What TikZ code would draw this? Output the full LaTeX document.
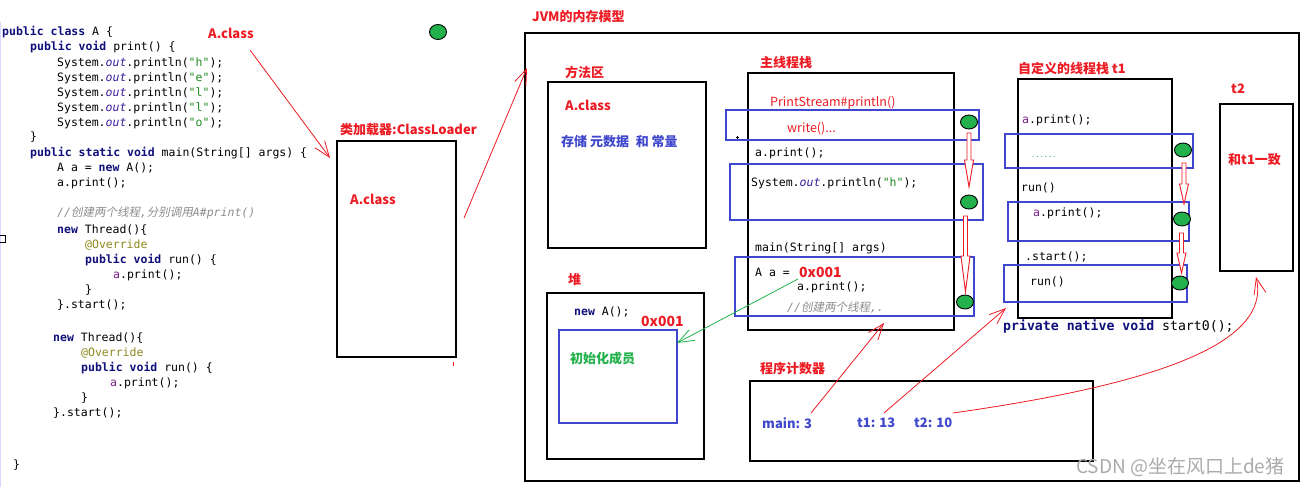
\documentclass[tikz,border=0pt]{standalone}
\usepackage{fontspec}
\usetikzlibrary{shapes.geometric,arrows.meta}
\newfontfamily\cjk{Noto Sans CJK SC}
\newfontfamily\cjkit[FakeSlant=0.2]{Noto Sans CJK SC}
\newfontfamily\codefont{DejaVu Sans Mono}
\definecolor{pred}{HTML}{ED1C24}
\definecolor{pblue}{HTML}{3F48CC}
\definecolor{pgreen}{HTML}{22B14C}
\definecolor{kwc}{HTML}{10107A}
\definecolor{outc}{HTML}{3A1C9C}
\definecolor{strc}{HTML}{1F8A1F}
\definecolor{varc}{HTML}{7A1E8A}
\definecolor{cmtc}{HTML}{8C8C8C}
\definecolor{annc}{HTML}{8C8A1E}
\definecolor{wmk}{HTML}{ABABAB}
\newcommand\jkw[1]{{\bfseries\color{kwc}#1}}
\newcommand\jout{{\itshape\color{outc}out}}
\newcommand\jstr[1]{{\color{strc}#1}}
\newcommand\jvar[1]{{\color{varc}#1}}
\newcommand\jann[1]{{\color{annc}#1}}
\newcommand\jharrow[4]{\draw[pred,line width=0.9pt,fill=white] (#1-2,#2) -- (#1-2,#3) -- (#1-4.5,#3) -- (#1,#4) -- (#1+4.5,#3) -- (#1+2,#3) -- (#1+2,#2) -- cycle;}
\begin{document}
\begin{tikzpicture}[x=1pt,y=-1pt,
  code/.style={anchor=west,inner sep=0pt,font=\codefont\fontsize{11.5}{13}\selectfont},
  bigcode/.style={anchor=west,inner sep=0pt,font=\codefont\fontsize{13.2}{15}\selectfont},
  lab/.style={anchor=west,inner sep=0pt,font=\cjk\bfseries\fontsize{13}{15}\selectfont,text=pred},
  hexlab/.style={anchor=west,inner sep=0pt,font=\cjk\bfseries\fontsize{14}{16}\selectfont,text=pred},
  bluelab/.style={anchor=west,inner sep=0pt,font=\cjk\bfseries\fontsize{13}{15}\selectfont,text=pblue},
  greenlab/.style={anchor=west,inner sep=0pt,font=\cjk\bfseries\fontsize{13}{15}\selectfont,text=pgreen},
  redtxt/.style={anchor=west,inner sep=0pt,font=\cjk\fontsize{12.5}{15}\selectfont,text=pred},
  bx/.style={draw=black,line width=1.3pt,anchor=north west,inner sep=0pt,outer sep=0pt},
  bbx/.style={draw=pblue,line width=1.2pt,anchor=north west,inner sep=0pt,outer sep=0pt},
  dot/.style={ellipse,draw=black,line width=0.9pt,fill=pgreen,minimum width=17pt,minimum height=14pt,inner sep=0pt},
  ra/.style={draw=pred,line width=0.8pt,-{Straight Barb[length=16pt,width=12pt]}},
  ga/.style={draw=pgreen,line width=0.8pt,-{Straight Barb[length=16pt,width=12pt]}}
]
\useasboundingbox (0,0) rectangle (1306,487);
\fill[white] (0,0) rectangle (1306,487);
% editor margin
\draw[blue!15,line width=1pt] (0.5,22) -- (0.5,487);
\node[draw=black,line width=1pt,minimum width=6pt,minimum height=7pt,inner sep=0pt,anchor=north west] (mk) at (-1,235) {};

% ---------- code ----------
\node[code] (l1) at (2,32) {\jkw{public} \jkw{class} A \{};
\node[code] (l2) at (30,47) {\jkw{public} \jkw{void} print() \{};
\node[code] (l3) at (57,63) {System.\jout.println(\jstr{"h"});};
\node[code] (l4) at (57,78) {System.\jout.println(\jstr{"e"});};
\node[code] (l5) at (57,93) {System.\jout.println(\jstr{"l"});};
\node[code] (l6) at (57,108) {System.\jout.println(\jstr{"l"});};
\node[code] (l7) at (57,123) {System.\jout.println(\jstr{"o"});};
\node[code] (l8) at (30,137) {\}};
\node[code] (l9) at (30,153) {\jkw{public} \jkw{static} \jkw{void} main(String[] args) \{};
\node[code] (l10) at (57,168) {A a = \jkw{new} A();};
\node[code] (l11) at (57,183) {a.print();};
\node[code,text=cmtc] (l12) at (57,213) {{\itshape //}{\cjkit 创建两个线程}{\itshape ,}{\cjkit 分别调用}{\itshape A\#print()}};
\node[code] (l13) at (57,230) {\jkw{new} Thread()\{};
\node[code] (l14) at (85,245) {\jann{@Override}};
\node[code] (l15) at (85,260) {\jkw{public} \jkw{void} run() \{};
\node[code] (l16) at (113,275) {\jvar{a}.print();};
\node[code] (l17) at (85,290) {\}};
\node[code] (l18) at (57,305) {\}.start();};
\node[code] (l19) at (53,338) {\jkw{new} Thread()\{};
\node[code] (l20) at (81,353) {\jann{@Override}};
\node[code] (l21) at (81,368) {\jkw{public} \jkw{void} run() \{};
\node[code] (l22) at (110,383) {\jvar{a}.print();};
\node[code] (l23) at (81,398) {\}};
\node[code] (l24) at (53,413) {\}.start();};
\node[code] (l25) at (13,465) {\}};

% ---------- labels top ----------
\node[lab] (acl) at (208,33) {A.class};
\node[dot,minimum width=17pt,minimum height=15pt] (topdot) at (438,32) {};
\node[lab] (cll) at (340,130) {类加载器:ClassLoader};
\node[bx,minimum width=119pt,minimum height=216pt] (loader) at (337,141) {};
\node[lab] (acl2) at (350,199) {A.class};
\fill[pred] (452.5,362) rectangle (453.5,366);

% ---------- JVM ----------
\node[lab] (jvml) at (532,17) {JVM的内存模型};
\node[bx,minimum width=774pt,minimum height=448pt] (jvm) at (525,33) {};

% method area
\node[lab] (mal) at (565,72) {方法区};
\node[bx,minimum width=158pt,minimum height=166pt] (marea) at (548,82) {};
\node[lab] (acl3) at (565,105) {A.class};
\node[bluelab] (meta) at (561,142) {存储 元数据 \;和 常量};

% heap
\node[lab] (heapl) at (568,280) {堆};
\node[bx,minimum width=157pt,minimum height=166pt] (heap) at (547,293) {};
\node[code] (newa) at (574,312) {\jkw{new} A();};
\node[hexlab] (hex1) at (641,321) {0x001};
\node[bbx,minimum width=118pt,minimum height=93pt] (heapin) at (559,330) {};
\node[greenlab] (init) at (570,359) {初始化成员};

% main stack
\node[lab] (msl) at (760,63) {主线程栈};
\node[bx,minimum width=206pt,minimum height=257pt] (mstack) at (748,73) {};
\node[bbx,minimum width=253pt,minimum height=30pt] (mb1) at (726,110) {};
\node[bbx,minimum width=253pt,minimum height=56pt] (mb2) at (730,164) {};
\node[bbx,minimum width=239pt,minimum height=59pt] (mb3) at (735,257) {};
\node[redtxt] (ps) at (770,103) {PrintStream\#println()};
\node[redtxt] (wr) at (787,129) {write()...};
\draw[black,line width=0.6pt] (735.5,137) -- (738.5,137) (737,135.5) -- (737,138.5);
\node[code] (m1) at (755,153) {a.print();};
\node[code] (m2) at (751,183) {System.\jout.println(\jstr{"h"});};
\node[code] (m3) at (755,248) {main(String[] args)};
\node[code] (m4) at (755,272) {A a =};
\node[hexlab] (hex2) at (799,272) {0x001};
\node[code] (m5) at (797,287) {a.print();};
\node[code,text=cmtc] (m6) at (787,307) {{\itshape //}{\cjkit 创建两个线程}{\itshape ,.}};

% t1 stack
\node[lab] (t1l) at (1018,69) {自定义的线程栈 t1};
\node[bx,minimum width=154pt,minimum height=239pt] (t1stack) at (1018,79) {};
\node[bbx,minimum width=188pt,minimum height=34pt] (tb1) at (1005,134) {};
\node[bbx,minimum width=181pt,minimum height=39pt] (tb2) at (1008,202) {};
\node[bbx,minimum width=183pt,minimum height=37pt] (tb3) at (1004,265) {};
\node[code] (t1a) at (1022,120) {\jvar{a}.print();};
\node[code,text=pgreen,font=\codefont\fontsize{7}{8}\selectfont] (t1b) at (1031,157) {......};
\node[code] (t1c) at (1021,188) {run()};
\node[code] (t1d) at (1033,213) {\jvar{a}.print();};
\node[code] (t1e) at (1025,257) {.start();};
\node[code] (t1f) at (1030,282) {run()};
\node[bigcode] (nat) at (1003,327) {\jkw{private} \jkw{native} \jkw{void} start0();};

% t2
\node[lab] (t2l) at (1231,89) {t2};
\node[bx,minimum width=73pt,minimum height=167pt] (t2box) at (1220,104) {};
\node[lab] (same) at (1228,160) {和t1一致};

% program counter
\node[lab] (pcl) at (760,369) {程序计数器};
\node[bx,minimum width=343pt,minimum height=80pt] (pc) at (750,381) {};
\node[bluelab] (pcm) at (762,423) {main: 3};
\node[bluelab] (pc1) at (857,423) {t1: 13};
\node[bluelab] (pc2) at (914,423) {t2: 10};

% hollow arrows
\jharrow{969}{133}{160}{187}
\jharrow{965.5}{216}{256}{292}
\jharrow{1184}{163}{184}{204}
\jharrow{1181.5}{233}{253}{273}

% green dots
\node[dot] (d1) at (969,122) {};
\node[dot] (d2) at (969,202) {};
\node[dot] (d3) at (965,302) {};
\node[dot] (d4) at (1183,150) {};
\node[dot] (d5) at (1182,219) {};
\node[dot] (d6) at (1180,283) {};

% connectors
\coordinate (a1s) at (250,50);
\coordinate (a1e) at (330,158);
\draw[ra] (a1s) -- (a1e);
\coordinate (a2s) at (464,218);
\coordinate (a2e) at (527,68);
\draw[ra] (a2s) -- (a2e);
\coordinate (g1s) at (798,279);
\coordinate (g1e) at (677,343);
\draw[ga] (g1s) -- (g1e);
\coordinate (p1s) at (811,413);
\coordinate (p1e) at (884,323);
\draw[ra] (p1s) -- (p1e);
\coordinate (p2s) at (884,413);
\coordinate (p2e) at (1006,308);
\draw[ra] (p2s) -- (p2e);
\coordinate (p3s) at (953,413);
\coordinate (p3e) at (1256,277);
\draw[ra] (p3s) .. controls (1150,385) and (1272,345) .. (p3e);

% watermark
\node[anchor=west,inner sep=0pt,font=\cjk\fontsize{19}{21}\selectfont,text=wmk] (wm) at (1076,467) {CSDN @坐在风口上de猪};
\end{tikzpicture}
\end{document}
